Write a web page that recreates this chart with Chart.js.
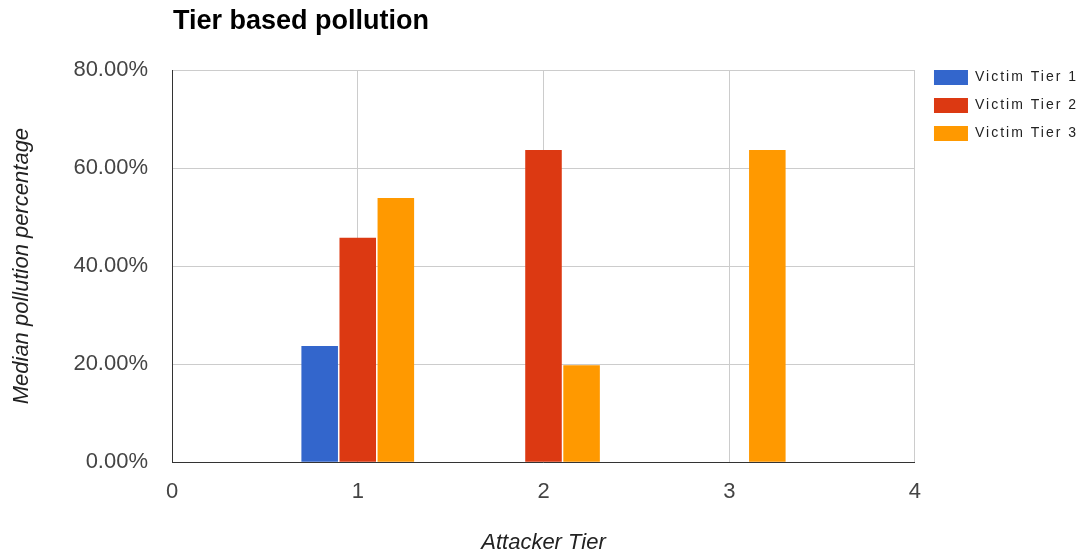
<!DOCTYPE html>
<html>
<head>
<meta charset="utf-8">
<script src="https://cdn.jsdelivr.net/npm/chart.js@4/dist/chart.umd.min.js"></script>
<style>
  html, body { margin: 0; padding: 0; background: #fff; }
  #wrap { width: 1086px; height: 556px; }
</style>
</head>
<body>
<div id="wrap"><canvas id="barchart"></canvas></div>
<script>
// attacker tiers (x axis) and median pollution per victim tier, in %
const tiers = [1, 2, 3];
const victimTier1 = [23.7, null, null];
const victimTier2 = [45.8, 63.7, null];
const victimTier3 = [53.9, 19.8, 63.7];
const seriesNames = ['Victim Tier 1', 'Victim Tier 2', 'Victim Tier 3'];
const yTicks = [0, 20, 40, 60, 80];
const xTicks = [0, 1, 2, 3, 4];

const colors = ['#3366cc', '#dc3912', '#ff9900'];
const FONT = '"Liberation Sans", Arial, sans-serif';

function toPoints(values) {
  return tiers.map((t, i) => ({ x: t, y: values[i] }));
}

const ctx = document.getElementById('barchart').getContext('2d');

// title sits over the plot's left edge, like the Google chart
const titlePlugin = {
  id: 'leftTitle',
  afterDraw(chart) {
    const c = chart.ctx;
    c.save();
    c.font = 'bold 27px ' + FONT;
    c.fillStyle = '#000';
    c.textBaseline = 'alphabetic';
    c.fillText('Tier based pollution', chart.chartArea.left + 1, 29);
    c.restore();
  }
};

// nudge the legend and space its letters out a bit
function withSpacing(fn) {
  return function() {
    const c = this.ctx;
    const prev = c.letterSpacing;
    c.letterSpacing = '2px';
    const r = fn.apply(this, arguments);
    c.letterSpacing = prev;
    return r;
  };
}
const legendTweak = {
  id: 'legendTweak',
  afterInit(chart) {
    const lg = chart.legend;
    lg.draw = withSpacing(lg.draw);
    lg.fit = withSpacing(lg.fit);
  },
  afterLayout(chart) {
    const lg = chart.legend;
    lg.top -= 13; lg.bottom -= 13;
    lg.left += 6; lg.right += 6;
  }
};

const data = {
  datasets: [victimTier1, victimTier2, victimTier3].map((v, i) => ({
    label: seriesNames[i],
    data: toPoints(v),
    backgroundColor: colors[i],
    borderWidth: 0,
    categoryPercentage: 0.615,
    barPercentage: 0.96,
  }))
};

const config = {
  type: 'bar',
  data: data,
  plugins: [titlePlugin, legendTweak],
  options: {
    responsive: true,
    maintainAspectRatio: false,
    animation: false,
    layout: { padding: { left: 0, right: 4, top: 70, bottom: 0 } },
    plugins: {
      legend: {
        position: 'right',
        align: 'start',
        labels: {
          boxWidth: 34,
          boxHeight: 15,
          padding: 13,
          color: '#222',
          font: { family: FONT, size: 14 },
        }
      },
      tooltip: { enabled: false },
    },
    scales: {
      x: {
        type: 'linear',
        min: 0,
        max: 4,
        offset: false,
        afterBuildTicks(axis) { axis.ticks = xTicks.map(v => ({ value: v })); },
        grid: { color: '#cccccc', drawTicks: false, offset: false },
        border: { color: '#333', width: 1 },
        ticks: {
          padding: 17,
          color: '#444',
          font: { family: FONT, size: 22 },
          maxRotation: 0,
        },
        title: {
          display: true,
          text: 'Attacker Tier',
          color: '#222',
          padding: { top: 7, bottom: 0 },
          font: { family: FONT, size: 22, style: 'italic' },
        }
      },
      y: {
        min: 0,
        max: 80,
        afterBuildTicks(axis) { axis.ticks = yTicks.map(v => ({ value: v })); },
        grid: { color: '#cccccc', drawTicks: false },
        border: { color: '#333', width: 1 },
        ticks: {
          padding: 24,
          color: '#444',
          font: { family: FONT, size: 22 },
          callback: function(value) {
            return value.toFixed(2) + '%';
          }
        },
        title: {
          display: true,
          text: 'Median pollution percentage',
          color: '#222',
          padding: { top: 9, bottom: 14 },
          font: { family: FONT, size: 22, style: 'italic' },
        }
      }
    }
  }
};

const myChart = new Chart(ctx, config);
</script>
</body>
</html>
